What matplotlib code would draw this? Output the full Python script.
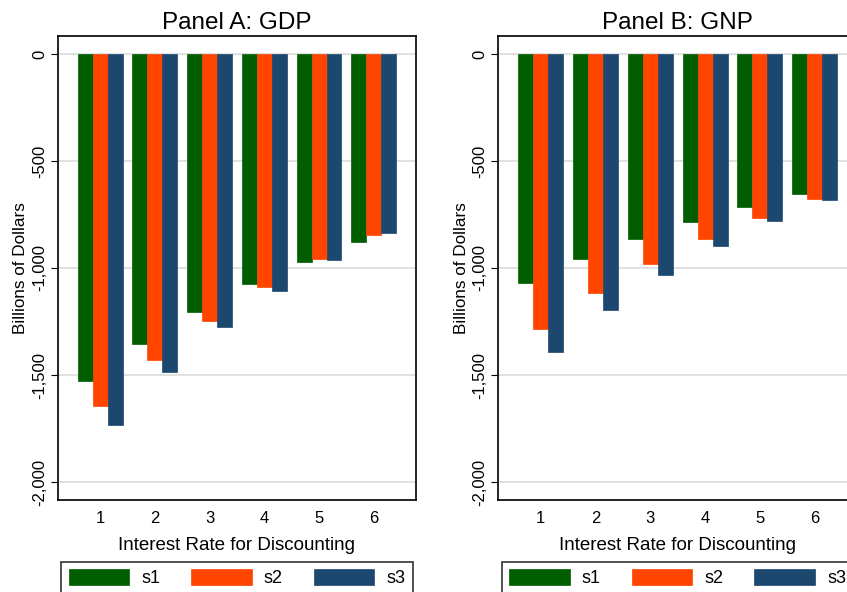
import matplotlib
matplotlib.use("Agg")
import matplotlib.pyplot as plt
import numpy as np

plt.rcParams['font.family'] = ['Liberation Sans', 'DejaVu Sans']

rates = [1, 2, 3, 4, 5, 6]
series = ['s1', 's2', 's3']
colors = ['#005e00', '#ff4500', '#1c476f']

# Panel A: GDP (billions of dollars)
gdp_s1 = [-1530, -1353, -1206, -1077, -972, -878]
gdp_s2 = [-1646, -1430, -1247, -1088, -958, -846]
gdp_s3 = [-1734, -1485, -1276, -1107, -961, -838]

# Panel B: GNP
gnp_s1 = [-1070, -959, -866, -784, -715, -653]
gnp_s2 = [-1283, -1119, -981, -863, -765, -678]
gnp_s3 = [-1392, -1197, -1032, -897, -782, -682]

panels = [
    ("Panel A: GDP", [gdp_s1, gdp_s2, gdp_s3]),
    ("Panel B: GNP", [gnp_s1, gnp_s2, gnp_s3]),
]

fig = plt.figure(figsize=(8.47, 5.92), dpi=100)
ax_pos = [
    [0.0685, 0.1554, 0.4226, 0.7838],
    [0.5883, 0.1554, 0.4235, 0.7838],
]

width = 0.273
x = np.arange(1, 7)

for (title, data), pos in zip(panels, ax_pos):
    ax = fig.add_axes(pos)
    for i, (vals, c, name) in enumerate(zip(data, colors, series)):
        ax.bar(x + (i - 1) * width, vals, width, color=c, edgecolor=c,
               linewidth=0.5, label=name, zorder=3)
    ax.set_xlim(0.23, 6.77)
    ax.set_ylim(-2084, 84)
    ax.set_yticks([0, -500, -1000, -1500, -2000])
    ax.set_yticklabels(['0', '-500', '-1,000', '-1,500', '-2,000'],
                       rotation=90, va='center', fontsize=12)
    ax.set_xticks(x)
    ax.set_xticklabels([str(r) for r in rates], fontsize=12)
    ax.tick_params(axis='x', length=0, pad=8)
    ax.tick_params(axis='y', length=5, width=0.8, pad=3)
    ax.grid(axis='y', color='#dcdcdc', linewidth=1.2, zorder=0)
    for s in ax.spines.values():
        s.set_linewidth(1.2)
    ax.set_title(title, fontsize=17.5, pad=5)
    ax.set_xlabel("Interest Rate for Discounting", fontsize=13.5, labelpad=8)
    ax.set_ylabel("Billions of Dollars", fontsize=12.3)
    ax.yaxis.set_label_coords(-0.083, 0.5)

    leg = ax.legend(loc='center', bbox_to_anchor=(pos[0] + pos[2] / 2, 0.0236),
                    bbox_transform=fig.transFigure, ncol=3, fontsize=13,
                    frameon=True, fancybox=False, edgecolor='black',
                    handlelength=3.35, handleheight=1.0, handletextpad=0.67,
                    columnspacing=1.72, borderpad=0.4, borderaxespad=0)
    leg.get_frame().set_linewidth(1.2)

fig.savefig("out.png", dpi=100)
